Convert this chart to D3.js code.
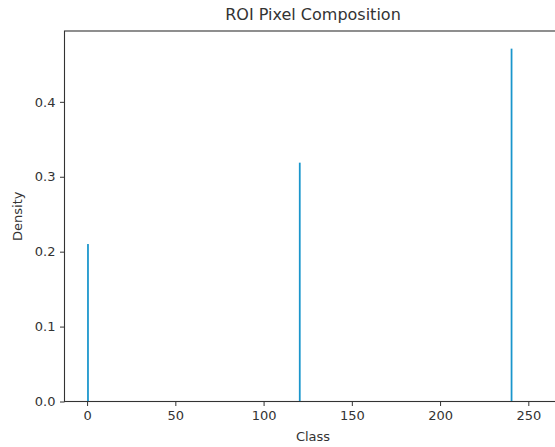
<!DOCTYPE html>
<html>
<head>
<meta charset="utf-8">
<script src="https://cdn.jsdelivr.net/npm/d3@7"></script>
<style>
  html, body { margin: 0; padding: 0; background: #fff; }
  svg { display: block; }
  text { font-family: "DejaVu Sans", sans-serif; fill: #333; }
</style>
</head>
<body>
<svg id="chart" width="555" height="447"></svg>
<script>
// Pixel classes present in the ROI and their density (bin width 1, bins 0..256)
const classes = [0, 120, 240];
const densities = [0.2102, 0.3188, 0.4710];
const xTicks = [0, 50, 100, 150, 200, 250];
const yTicks = [0.0, 0.1, 0.2, 0.3, 0.4];
const binEdges = [0, 256];

const W = 555, H = 447;
const margin = { left: 64.5, top: 31, right: -6.5, bottom: 45.5 };
const svg = d3.select("#chart");

// Matplotlib-like 5% margins on x, top margin of 5% on y
const xPad = (binEdges[1] - binEdges[0]) * 0.05;
const x = d3.scaleLinear()
  .domain([binEdges[0] - xPad, binEdges[1] + xPad])
  .range([margin.left, W - margin.right]);
const yMax = d3.max(densities) * 1.05;
const y = d3.scaleLinear()
  .domain([0, yMax])
  .range([H - margin.bottom, margin.top]);

const barColor = "#1a96cc";

// Histogram bars, one bin wide each
svg.append("g").selectAll("rect")
  .data(classes.map((c, i) => ({ c, v: densities[i] })))
  .join("rect")
  .attr("x", d => x(d.c))
  .attr("width", d => x(d.c + 1) - x(d.c))
  .attr("y", d => y(d.v))
  .attr("height", d => y(0) - y(d.v))
  .attr("fill", barColor);

// Axes
const xAxis = d3.axisBottom(x).tickValues(xTicks).tickFormat(d3.format("d"))
  .tickSize(4.5).tickPadding(4.5);
const yAxis = d3.axisLeft(y).tickValues(yTicks).tickFormat(d3.format(".1f"))
  .tickSize(4.5).tickPadding(4.5);

const gx = svg.append("g")
  .attr("transform", `translate(0,${H - margin.bottom})`)
  .call(xAxis);
const gy = svg.append("g")
  .attr("transform", `translate(${margin.left},0)`)
  .call(yAxis);

[gx, gy].forEach(g => {
  g.select(".domain").remove();
  g.selectAll(".tick line").attr("stroke", "#333").attr("stroke-width", 1);
  g.selectAll(".tick text").style("font-size", "13px").style("font-family", "DejaVu Sans").attr("fill", "#333");
});

// Frame (spines)
svg.append("rect")
  .attr("x", margin.left)
  .attr("y", margin.top)
  .attr("width", (W - margin.right) - margin.left)
  .attr("height", (H - margin.bottom) - margin.top)
  .attr("fill", "none")
  .attr("stroke", "#333")
  .attr("stroke-width", 1.1);

const cx = (margin.left + (W - margin.right)) / 2;

svg.append("text")
  .attr("x", cx)
  .attr("y", 20)
  .attr("text-anchor", "middle")
  .style("font-size", "16px")
  .text("ROI Pixel Composition");

svg.append("text")
  .attr("x", cx)
  .attr("y", 441)
  .attr("text-anchor", "middle")
  .style("font-size", "13px")
  .text("Class");

svg.append("text")
  .attr("transform", `translate(22,${(margin.top + H - margin.bottom) / 2}) rotate(-90)`)
  .attr("text-anchor", "middle")
  .style("font-size", "13px")
  .text("Density");
</script>
</body>
</html>
